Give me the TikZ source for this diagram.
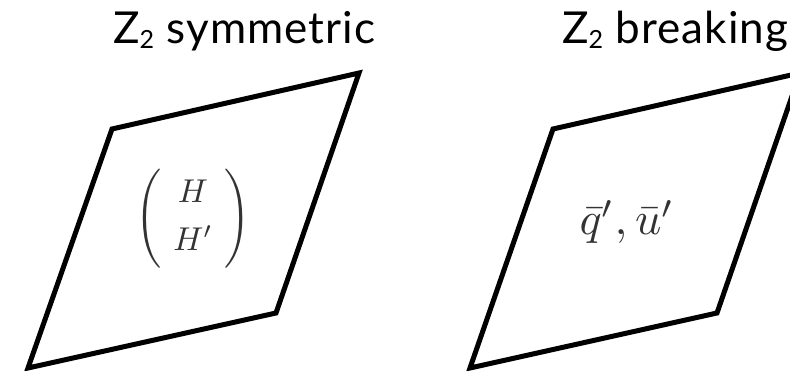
\documentclass[tikz,border=0pt]{standalone}
\usepackage{fontspec}
\usepackage{amsmath}
\newfontfamily\titlefont[LetterSpace=2.5]{Lato}
\begin{document}
\begin{tikzpicture}[x=1pt,y=-1pt,
  plane/.style={draw=black,line width=5pt,line join=miter},
  title/.style={anchor=base west,inner sep=0pt,font=\titlefont\fontsize{44}{44}\selectfont},
  mathlbl/.style={inner sep=0pt,text=black!80}]
\useasboundingbox (0,0) rectangle (790,371);
\clip (0,0) rectangle (790,371);
% left plane
\coordinate (l1) at (112,129);
\coordinate (l2) at (359,73);
\coordinate (l3) at (276,313);
\coordinate (l4) at (28,368);
\draw[plane] (l1) -- (l2) -- (l3) -- (l4) -- cycle;
% right plane
\coordinate (r1) at (553,129);
\coordinate (r2) at (800,73);
\coordinate (r3) at (717,313);
\coordinate (r4) at (470,368);
\draw[plane] (r1) -- (r2) -- (r3) -- (r4) -- cycle;
% titles
\node[title] (t1) at (113,44) {Z\raisebox{-5pt}{\fontsize{25}{25}\selectfont 2} symmetric};
\node[title] (t2) at (562,44) {Z\raisebox{-5pt}{\fontsize{25}{25}\selectfont 2} breaking};
% math labels
\node[mathlbl] (hh) at (193,219) {\scalebox{3.3}{$\Bigg(\begin{array}{@{\hspace{3.5pt}}c@{\hspace{3.5pt}}} H \\[2.5pt] H' \end{array}\Bigg)$}};
\node[mathlbl,anchor=base] (qu) at (627,235) {\scalebox{4.6}{$\bar{q}', \bar{u}'$}};
\end{tikzpicture}
\end{document}
